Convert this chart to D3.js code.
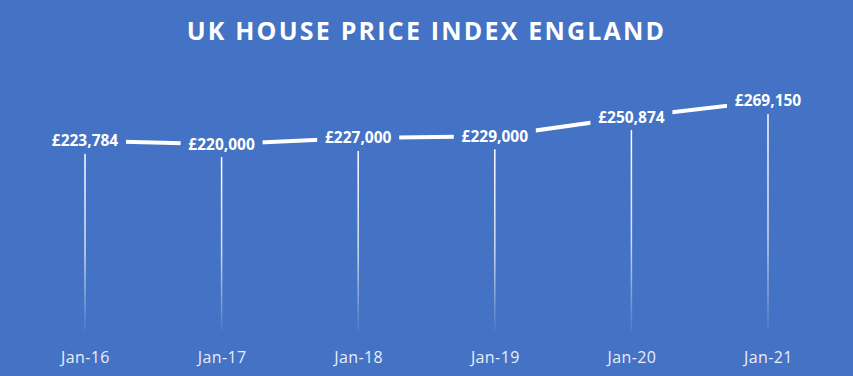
<!DOCTYPE html>
<html>
<head>
<meta charset="utf-8">
<script src="https://cdn.jsdelivr.net/npm/d3@7"></script>
<style>
  body { margin: 0; background: #4472c4; }
  svg { display: block; }
</style>
</head>
<body>
<svg></svg>
<script>
// chart data
var categories = ["Jan-16", "Jan-17", "Jan-18", "Jan-19", "Jan-20", "Jan-21"];
var prices = [223784, 220000, 227000, 229000, 250874, 269150];
var priceLabels = ["£223,784", "£220,000", "£227,000", "£229,000", "£250,874", "£269,150"];
var title = "UK HOUSE PRICE INDEX ENGLAND";

var svgWidth = 853, svgHeight = 376;
var bg = "#4472c4";

var svg = d3.select("svg")
    .attr("width", svgWidth)
    .attr("height", svgHeight);

svg.append("rect")
    .attr("width", svgWidth)
    .attr("height", svgHeight)
    .attr("fill", bg);

// gradient for the drop lines
var grad = svg.append("defs").append("linearGradient")
    .attr("id", "drop")
    .attr("x1", 0).attr("y1", 0).attr("x2", 0).attr("y2", 1);
grad.append("stop").attr("offset", "0%").attr("stop-color", "#ffffff").attr("stop-opacity", 1);
grad.append("stop").attr("offset", "55%").attr("stop-color", "#ffffff").attr("stop-opacity", 0.75);
grad.append("stop").attr("offset", "100%").attr("stop-color", "#ffffff").attr("stop-opacity", 0.05);

var x = d3.scalePoint()
    .domain(categories)
    .range([85, 768]);

var y = d3.scaleLinear()
    .domain([0, 300000])
    .range([337, 74]);

var data = categories.map(function(c, i) {
    return { cat: c, value: prices[i], label: priceLabels[i] };
});

// title
svg.append("text")
    .attr("x", svgWidth / 2)
    .attr("y", 40)
    .attr("text-anchor", "middle")
    .attr("fill", "#ffffff")
    .style("font-family", "'Open Sans', sans-serif")
    .style("font-weight", "bold")
    .style("font-size", "25px")
    .style("letter-spacing", "2.2px")
    .text(title);

// drop lines
svg.selectAll(".drop")
    .data(data)
    .enter().append("rect")
    .attr("class", "drop")
    .attr("x", function(d) { return x(d.cat) - 0.75; })
    .attr("y", function(d) { return y(d.value) + 13; })
    .attr("width", 1.5)
    .attr("height", function(d) { return 331 - y(d.value) - 13; })
    .attr("fill", "url(#drop)");

// price line
var line = d3.line()
    .x(function(d) { return x(d.cat); })
    .y(function(d) { return y(d.value); });

svg.append("path")
    .datum(data)
    .attr("fill", "none")
    .attr("stroke", "#ffffff")
    .attr("stroke-width", 4)
    .attr("stroke-linejoin", "round")
    .attr("d", line);

// data labels with background to mask the line
var labels = svg.selectAll(".lbl")
    .data(data)
    .enter().append("g")
    .attr("class", "lbl")
    .attr("transform", function(d) { return "translate(" + x(d.cat) + "," + y(d.value) + ")"; });

labels.append("rect")
    .attr("x", -41)
    .attr("y", -11)
    .attr("width", 82)
    .attr("height", 22)
    .attr("fill", bg);

labels.append("text")
    .attr("text-anchor", "middle")
    .attr("dy", "0.35em")
    .attr("fill", "#ffffff")
    .style("font-family", "'Open Sans', sans-serif")
    .style("font-weight", "bold")
    .style("font-size", "15.5px")
    .text(function(d) { return d.label; });

// category axis
var xAxis = svg.append("g")
    .attr("transform", "translate(0,357)")
    .call(d3.axisBottom(x).tickSize(0).tickPadding(0));
xAxis.select(".domain").remove();
xAxis.selectAll("text")
    .attr("fill", "#e8eefa")
    .attr("dy", "0.35em")
    .style("font-family", "'Open Sans', sans-serif")
    .style("font-size", "16px")
    .style("letter-spacing", "0.4px");
</script>
</body>
</html>
